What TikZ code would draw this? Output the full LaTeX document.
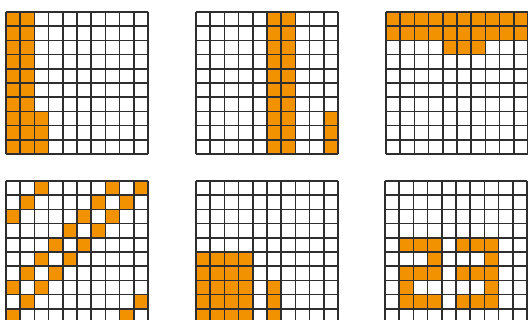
\documentclass[tikz,border=0pt]{standalone}
\usepackage{xcolor}
\definecolor{pixOn}{HTML}{F29200}
\definecolor{pixLine}{HTML}{2E2E2E}
\tikzset{
  pix/.style={fill=pixOn},
  gridline/.style={draw=pixLine, line width=1.6pt},
}
% one 10x10 grid: #1,#2 = top left corner, #3 = filled cells as col/row
\newcommand{\pixgrid}[3]{%
  \begin{scope}[shift={(#1,#2)}]
    \foreach \c/\r in {#3}
      \fill[pix] (\c*14.2,\r*14.2) rectangle ++(14.2,14.2);
    \foreach \i in {0,...,10} {
      \draw[gridline] (\i*14.2,0) -- (\i*14.2,142);
      \draw[gridline] (0,\i*14.2) -- (142,\i*14.2);
    }
  \end{scope}}

\begin{document}
\begin{tikzpicture}[x=1pt, y=-1pt]
\clip (0,0) rectangle (528,320);
\fill[white] (0,0) rectangle (528,320);

% top row
\pixgrid{6}{12}{0/0,1/0,0/1,1/1,0/2,1/2,0/3,1/3,0/4,1/4,0/5,1/5,0/6,1/6,
  0/7,1/7,2/7,0/8,1/8,2/8,0/9,1/9,2/9}
\pixgrid{196}{12}{5/0,6/0,5/1,6/1,5/2,6/2,5/3,6/3,5/4,6/4,5/5,6/5,5/6,6/6,
  5/7,6/7,9/7,5/8,6/8,9/8,5/9,6/9,9/9}
\pixgrid{386}{12}{0/0,1/0,2/0,3/0,4/0,5/0,6/0,7/0,8/0,9/0,
  0/1,1/1,2/1,3/1,4/1,5/1,6/1,7/1,8/1,9/1,4/2,5/2,6/2}

% bottom row
\pixgrid{6}{181}{2/0,7/0,9/0,1/1,6/1,8/1,0/2,5/2,7/2,4/3,6/3,3/4,5/4,
  2/5,4/5,1/6,3/6,0/7,2/7,1/8,9/8,0/9,8/9}
\pixgrid{196}{181}{0/5,1/5,2/5,3/5,0/6,1/6,2/6,3/6,0/7,1/7,2/7,3/7,5/7,
  0/8,1/8,2/8,3/8,5/8,0/9,1/9,2/9,3/9,5/9}
\pixgrid{385}{181}{1/4,2/4,3/4,5/4,6/4,7/4,3/5,7/5,1/6,2/6,3/6,5/6,6/6,7/6,
  1/7,7/7,1/8,2/8,3/8,5/8,6/8,7/8}

\end{tikzpicture}
\end{document}
